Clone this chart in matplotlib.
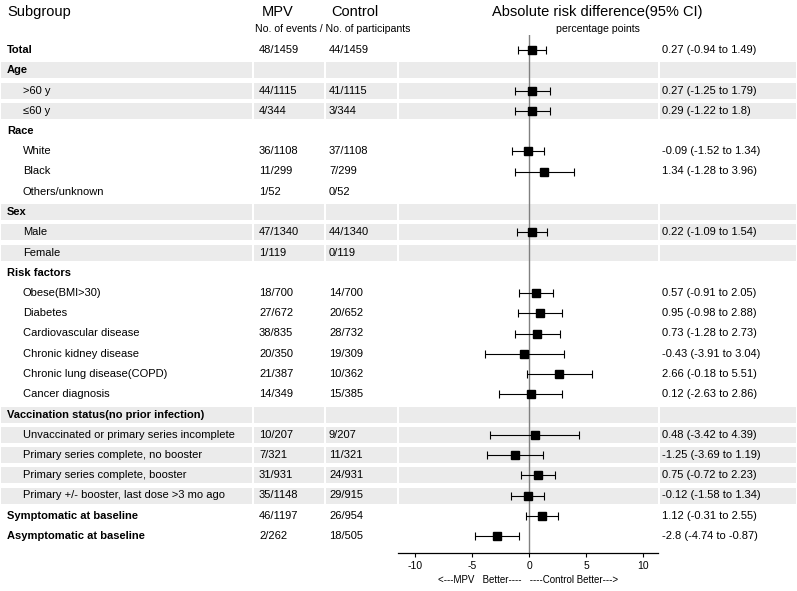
import numpy as np
import matplotlib
matplotlib.use("Agg")
import matplotlib.pyplot as plt
from matplotlib.patches import Rectangle

plt.rcParams['font.family'] = ['Liberation Sans', 'DejaVu Sans']

# ---------------- data ----------------
labels = ["Total", "Age", ">60 y", "≤60 y", "Race", "White", "Black", "Others/unknown",
          "Sex", "Male", "Female", "Risk factors", "Obese(BMI>30)", "Diabetes",
          "Cardiovascular disease", "Chronic kidney disease", "Chronic lung disease(COPD)",
          "Cancer diagnosis", "Vaccination status(no prior infection)",
          "Unvaccinated or primary series incomplete", "Primary series complete, no booster",
          "Primary series complete, booster", "Primary +/- booster, last dose >3 mo ago",
          "Symptomatic at baseline", "Asymptomatic at baseline"]
is_group = [True, True, False, False, True, False, False, False,
            True, False, False, True, False, False, False, False, False, False,
            True, False, False, False, False, True, True]
shaded = [False, True, True, True, False, False, False, False,
          True, True, True, False, False, False, False, False, False, False,
          True, True, True, True, True, False, False]
mpv = ["48/1459", "", "44/1115", "4/344", "", "36/1108", "11/299", "1/52",
       "", "47/1340", "1/119", "", "18/700", "27/672", "38/835", "20/350", "21/387",
       "14/349", "", "10/207", "7/321", "31/931", "35/1148", "46/1197", "2/262"]
control = ["44/1459", "", "41/1115", "3/344", "", "37/1108", "7/299", "0/52",
           "", "44/1340", "0/119", "", "14/700", "20/652", "28/732", "19/309", "10/362",
           "15/385", "", "9/207", "11/321", "24/931", "29/915", "26/954", "18/505"]
nan = np.nan
est = [0.27, nan, 0.27, 0.29, nan, -0.09, 1.34, nan, nan, 0.22, nan, nan,
       0.57, 0.95, 0.73, -0.43, 2.66, 0.12, nan, 0.48, -1.25, 0.75, -0.12, 1.12, -2.8]
low = [-0.94, nan, -1.25, -1.22, nan, -1.52, -1.28, nan, nan, -1.09, nan, nan,
       -0.91, -0.98, -1.28, -3.91, -0.18, -2.63, nan, -3.42, -3.69, -0.72, -1.58, -0.31, -4.74]
high = [1.49, nan, 1.79, 1.8, nan, 1.34, 3.96, nan, nan, 1.54, nan, nan,
        2.05, 2.88, 2.73, 3.04, 5.51, 2.86, nan, 4.39, 1.19, 2.23, 1.34, 2.55, -0.87]
xticks = [-10, -5, 0, 5, 10]

# ---------------- layout ----------------
W, H = 797, 591
fig = plt.figure(figsize=(W / 100, H / 100), dpi=100)
bg = fig.add_axes([0, 0, 1, 1])
bg.set_xlim(0, W)
bg.set_ylim(H, 0)
bg.axis('off')

Y0, PITCH = 50.0, 20.25
def ry(i):
    return Y0 + PITCH * i

n = len(labels)
col_edges = [0, 253, 325, 398, 659, 797]
band_h = 16
shade = '#EBEBEB'
for i in range(n):
    if shaded[i]:
        for a, b in zip(col_edges[:-1], col_edges[1:]):
            bg.add_patch(Rectangle((a + 0.6, ry(i) - band_h / 2), b - a - 1.2, band_h,
                                   facecolor=shade, edgecolor='none', zorder=0))

# headers
bg.text(7, 12, "Subgroup", fontsize=10.5, va='center', ha='left')
bg.text(262, 12, "MPV", fontsize=10.5, va='center', ha='left')
bg.text(331, 12, "Control", fontsize=10.5, va='center', ha='left')
bg.text(255, 29.5, "No. of events / No. of participants", fontsize=7.6, va='center', ha='left')
bg.text(597.5, 12, "Absolute risk difference(95% CI)", fontsize=10.5, va='center', ha='center')
bg.text(597.5, 29.5, "percentage points", fontsize=7.6, va='center', ha='center')

for i in range(n):
    y = ry(i)
    if is_group[i]:
        bg.text(7, y, labels[i], fontsize=8, fontweight='bold', va='center', ha='left')
    else:
        bg.text(23, y, labels[i], fontsize=8, va='center', ha='left')
    bg.text(259, y, mpv[i], fontsize=8, va='center', ha='left')
    bg.text(329, y, control[i], fontsize=8, va='center', ha='left')
    if not np.isnan(est[i]):
        bg.text(662, y, f"{est[i]:g} ({low[i]:g} to {high[i]:g})",
                fontsize=8, va='center', ha='left')

# forest axes
x_left, x_right, y_top, y_bot = 398, 658, 35, 553
ax = fig.add_axes([x_left / W, (H - y_bot) / H, (x_right - x_left) / W, (y_bot - y_top) / H])
ax.set_facecolor('none')
ax.set_xlim(-11.5, 11.3)
ax.set_ylim((y_bot - Y0) / PITCH, (y_top - Y0) / PITCH)
for s in ['left', 'right', 'top']:
    ax.spines[s].set_visible(False)
ax.spines['bottom'].set_linewidth(0.9)
ax.set_yticks([])
ax.set_xticks(xticks)
ax.set_xticklabels([str(t) for t in xticks], fontsize=7.5)
ax.tick_params(axis='x', length=3, width=0.8, pad=2.5)
ax.axvline(0, color='#808080', lw=1.0, zorder=1)

rows = np.arange(n)
e = np.array(est); lo = np.array(low); hi = np.array(high)
ok = ~np.isnan(e)
ax.errorbar(e[ok], rows[ok], xerr=[e[ok] - lo[ok], hi[ok] - e[ok]], fmt='s',
            color='black', ecolor='black', elinewidth=0.8, capsize=2.9, capthick=0.8,
            markersize=5.5, zorder=3)
ax.set_xlabel("<---MPV   Better----   ----Control Better--->", fontsize=7, labelpad=3)

fig.savefig("out.png", dpi=100)
